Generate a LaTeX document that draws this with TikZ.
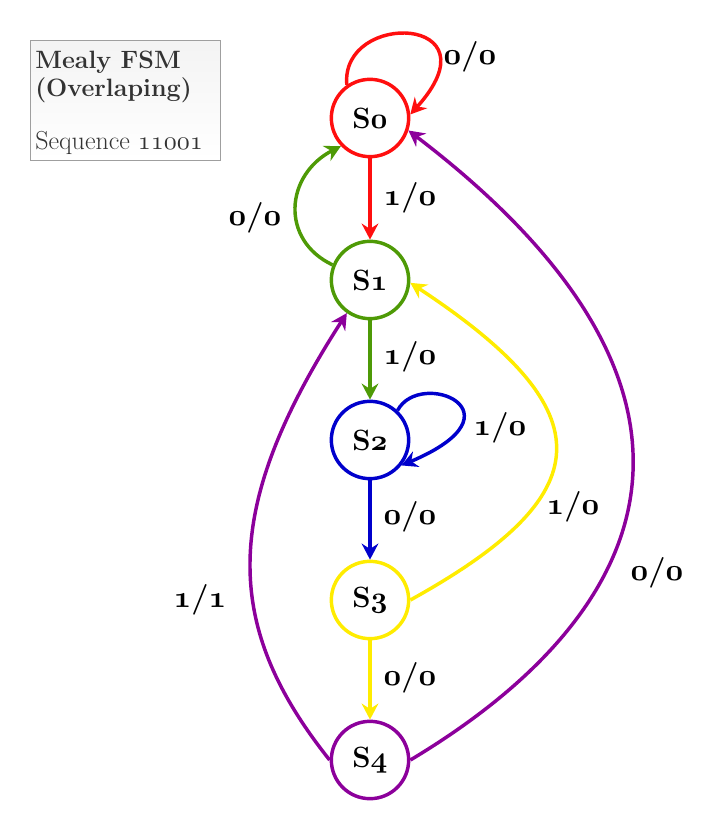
\documentclass[tikz,border=0pt]{standalone}
\usetikzlibrary{arrows.meta}
\DeclareFontFamily{OML}{myosn}{\skewchar\font'177}
\DeclareFontShape{OML}{myosn}{m}{it}{<->cmmi10}{}
\DeclareFontShape{OML}{myosn}{b}{it}{<->cmmib10}{}
\definecolor{cred}{RGB}{255,15,15}
\definecolor{cgreen}{RGB}{78,154,6}
\definecolor{cblue}{RGB}{0,0,204}
\definecolor{cyellow}{RGB}{255,236,0}
\definecolor{cpurple}{RGB}{140,0,155}
\definecolor{ctext}{RGB}{51,51,51}
\newcommand{\osb}[1]{{\usefont{OML}{myosn}{b}{it}#1}}
\newcommand{\osm}[1]{{\usefont{OML}{myosn}{m}{it}#1}}
\tikzset{
  state/.style={circle, draw, line width=2.6pt, minimum size=58pt, inner sep=0pt, fill=white,
    font=\fontsize{22}{25}\selectfont\bfseries},
  edge/.style={line width=2.6pt, -{Stealth[length=12pt,width=12.5pt,inset=4pt]}},
  lbl/.style={font=\fontsize{23}{26}\selectfont\bfseries, inner sep=1pt},
  info/.style={draw=gray!75, line width=0.6pt, top color=gray!9, bottom color=white}
}
\begin{document}
\begin{tikzpicture}[x=0.75pt,y=-0.75pt]
\useasboundingbox (0,0) rectangle (718,832);
% info box
\node[info, minimum width=142.5pt, minimum height=90pt, inner sep=0pt] (box) at (125,100) {};
\node[anchor=base west, inner sep=0pt, align=left, text=ctext, font=\fontsize{18.8}{21}\selectfont\bfseries] (title) at (35,68) {Mealy FSM};
\node[anchor=base west, inner sep=0pt, align=left, text=ctext, font=\fontsize{18.8}{21}\selectfont\bfseries] (title2) at (35,96) {(Overlaping)};
\node[anchor=base west, inner sep=0pt, text=ctext, font=\fontsize{19.5}{22}\selectfont] (seq) at (35,149) {Sequence \osm{11001}};
% states
\node[state, draw=cred] (S0) at (370,118) {S\osb{0}};
\node[state, draw=cgreen] (S1) at (370,280) {S\osb{1}};
\node[state, draw=cblue] (S2) at (370,440) {S\osb{2}};
\node[state, draw=cyellow] (S3) at (370,600) {S\osb{3}};
\node[state, draw=cpurple] (S4) at (370,760) {S\osb{4}};
% edges
\draw[edge, cred] (S0.125) .. controls (340,10) and (500,15) .. (S0.5);
\draw[edge, cred] (S0) -- (S1);
\draw[edge, cgreen] (S1.158) .. controls (280,240) and (285,175) .. (S0.224);
\draw[edge, cgreen] (S1) -- (S2);
\draw[edge, cblue] (S2.47) .. controls (420,368) and (528,412) .. (S2.-39);
\draw[edge, cblue] (S2) -- (S3);
\draw[edge, cyellow] (S3.0) .. controls (600,495) and (608,413) .. (S1.-4);
\draw[edge, cyellow] (S3) -- (S4);
\draw[edge, cpurple] (S4.180) .. controls (223,626) and (220,510) .. (S1.-125);
\draw[edge, cpurple] (S4.0) .. controls (674,602) and (737,381) .. (S0.-18);
% labels
\node[lbl] (l1) at (470,57) {\osb{0}/\osb{0}};
\node[lbl] (l2) at (410,198) {\osb{1}/\osb{0}};
\node[lbl] (l3) at (255,218) {\osb{0}/\osb{0}};
\node[lbl] (l4) at (410,357) {\osb{1}/\osb{0}};
\node[lbl] (l5) at (500,428) {\osb{1}/\osb{0}};
\node[lbl] (l6) at (410,517) {\osb{0}/\osb{0}};
\node[lbl] (l7) at (573,507) {\osb{1}/\osb{0}};
\node[lbl] (l8) at (410,678) {\osb{0}/\osb{0}};
\node[lbl] (l9) at (200,600) {\osb{1}/\osb{1}};
\node[lbl] (l10) at (657,573) {\osb{0}/\osb{0}};
\end{tikzpicture}
\end{document}
